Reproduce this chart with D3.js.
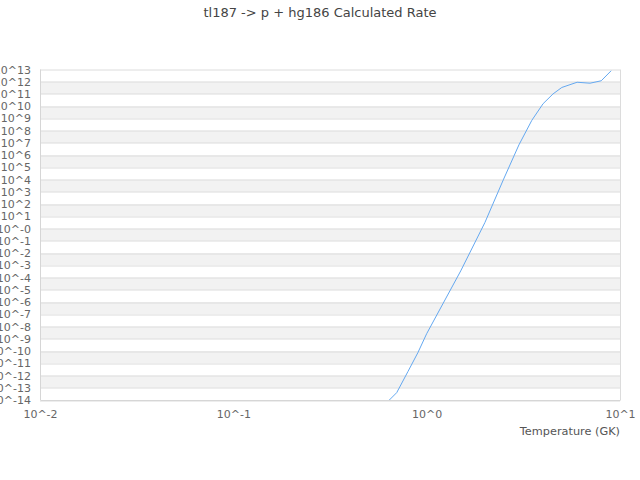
<!DOCTYPE html>
<html>
<head>
<meta charset="utf-8">
<script src="https://cdn.jsdelivr.net/npm/d3@7"></script>
<style>
  body { margin: 0; background: #fff; }
  svg text { font-family: "DejaVu Sans", sans-serif; }
</style>
</head>
<body>
<div id="chart"></div>
<script>
// temperatures (GK) and calculated rate
var temperature = [0.6, 0.7, 0.8, 0.9, 1.0, 1.5, 2.0, 2.5, 3.0, 3.5, 4.0, 4.5, 5.0, 6.0, 7.0, 8.0, 9.0];
var rate = [3.5e-15, 4.0e-14, 2.1e-12, 7.2e-11, 2.6e-9, 3.5e-4, 3.1, 1.1e4, 6.9e6, 7.1e8,
            1.6e10, 1.0e11, 3.4e11, 9.1e11, 7.6e11, 1.2e12, 7.9e12];

var xTicks = [0.01, 0.1, 1, 10];
var xTickLabels = ["10^-2", "10^-1", "10^0", "10^1"];
var yExponents = d3.range(-14, 14);   // -14 .. 13

var title = "tl187 -> p + hg186 Calculated Rate";
var xTitle = "Temperature (GK)";

var W = 640, H = 480;
var margin = { top: 69.5, right: 20, bottom: 80, left: 40 };
var width = W - margin.left - margin.right,
    height = H - margin.top - margin.bottom;

var svg = d3.select("#chart").append("svg")
    .attr("width", W)
    .attr("height", H);

var g = svg.append("g")
    .attr("transform", "translate(" + margin.left + "," + margin.top + ")");

var x = d3.scaleLog().domain([0.01, 10]).range([0, width]);
var y = d3.scaleLog().domain([1e-14, 1e13]).range([height, 0]);

// alternating bands
g.selectAll(".band")
    .data(yExponents.filter(function(e) { return e < 13 && Math.abs(e) % 2 == 1; }))
    .enter().append("rect")
    .attr("class", "band")
    .attr("x", 0)
    .attr("width", width)
    .attr("y", function(e) { return y(Math.pow(10, e + 1)); })
    .attr("height", function(e) { return y(Math.pow(10, e)) - y(Math.pow(10, e + 1)); })
    .attr("fill", "#f2f2f2");

// horizontal grid lines
g.selectAll(".grid")
    .data(yExponents)
    .enter().append("line")
    .attr("class", "grid")
    .attr("x1", 0).attr("x2", width)
    .attr("y1", function(e) { return Math.round(y(Math.pow(10, e))) + 0.5; })
    .attr("y2", function(e) { return Math.round(y(Math.pow(10, e))) + 0.5; })
    .attr("stroke", "#dcdcdc");

// frame
g.append("line").attr("x1", 0.5).attr("x2", 0.5).attr("y1", 0).attr("y2", height).attr("stroke", "#d6d6d6");
g.append("line").attr("x1", width + 0.5).attr("x2", width + 0.5).attr("y1", 0).attr("y2", height).attr("stroke", "#dcdcdc");

// y labels
var yAxis = d3.axisLeft(y)
    .tickValues(yExponents.map(function(e) { return Math.pow(10, e); }))
    .tickFormat(function(d) {
        var e = Math.round(Math.log10(d));
        return "10^" + (e === 0 ? "-0" : e);
    })
    .tickSize(0)
    .tickPadding(9);

g.append("g").attr("class", "y-axis").call(yAxis)
    .call(function(s) { s.select(".domain").remove(); })
    .selectAll("text")
    .attr("font-size", 11)
    .attr("fill", "#666");

// x labels
var xAxis = d3.axisBottom(x)
    .tickValues(xTicks)
    .tickFormat(function(d, i) { return xTickLabels[i]; })
    .tickSize(0)
    .tickPadding(10);

g.append("g").attr("class", "x-axis")
    .attr("transform", "translate(0," + height + ")")
    .call(xAxis)
    .call(function(s) { s.select(".domain").attr("stroke", "#d6d6d6"); })
    .selectAll("text")
    .attr("font-size", 11)
    .attr("fill", "#666");

// rate line
g.append("clipPath").attr("id", "clip")
    .append("rect").attr("width", width).attr("height", height);

var line = d3.line()
    .x(function(d, i) { return x(temperature[i]); })
    .y(function(d) { return y(d); });

g.append("path")
    .datum(rate)
    .attr("clip-path", "url(#clip)")
    .attr("fill", "none")
    .attr("stroke", "#64a8f0")
    .attr("stroke-width", 1)
    .attr("d", line);

// titles
svg.append("text")
    .attr("x", W / 2)
    .attr("y", 16.5)
    .attr("text-anchor", "middle")
    .attr("font-size", 13)
    .attr("fill", "#444")
    .text(title);

svg.append("text")
    .attr("x", margin.left + width)
    .attr("y", 435)
    .attr("text-anchor", "end")
    .attr("font-size", 11.3)
    .attr("fill", "#555")
    .text(xTitle);
</script>
</body>
</html>
